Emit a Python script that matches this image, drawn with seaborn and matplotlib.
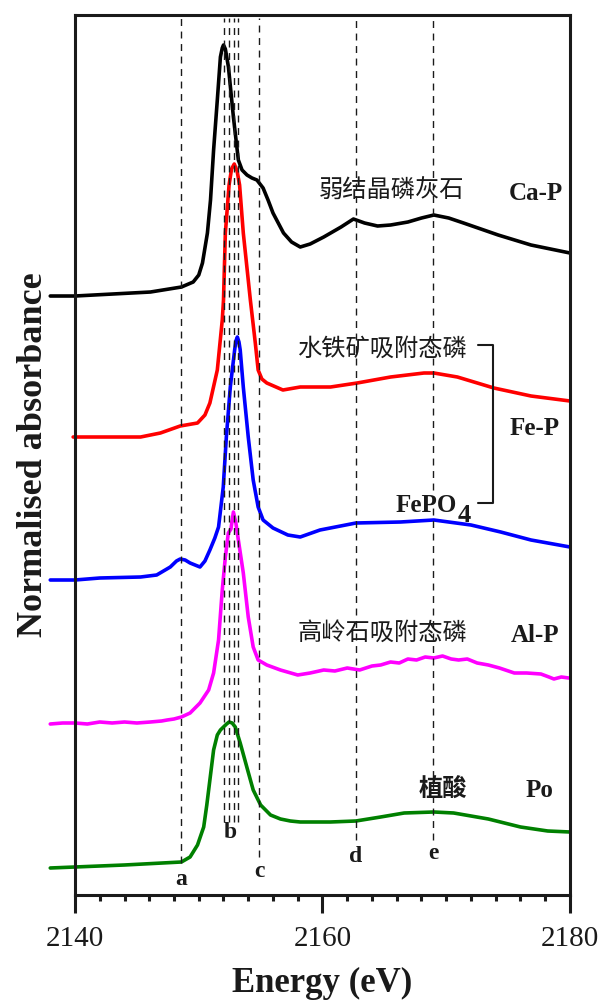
import matplotlib
matplotlib.use('Agg')
import matplotlib.pyplot as plt
import pandas as pd
import seaborn as sns
from matplotlib.ticker import MultipleLocator

# P K-edge XANES spectra (stacked, offset absorbance)
energy_cap = [2138.0, 2140.0, 2146.1, 2148.6, 2149.55, 2150.0, 2150.3, 2150.7, 2150.95, 2151.2,
              2151.5, 2151.75, 2151.9, 2152.0, 2152.15, 2152.4, 2152.8, 2153.2, 2153.5, 2153.9,
              2154.3, 2154.7, 2155.2, 2155.6, 2156.0, 2156.85, 2157.5, 2158.2, 2159.0, 2160.1,
              2161.5, 2162.5, 2163.4, 2164.45, 2165.5, 2166.9, 2168.0, 2169.0, 2170.2, 2171.4,
              2174.2, 2176.85, 2180.0]
absorb_cap = [5.99, 5.99, 6.03, 6.08, 6.13, 6.20, 6.32, 6.62, 6.95, 7.45,
              7.95, 8.38, 8.47, 8.50, 8.46, 8.28, 7.78, 7.35, 7.25, 7.20,
              7.17, 7.15, 7.07, 6.95, 6.82, 6.62, 6.53, 6.48, 6.51, 6.58,
              6.68, 6.76, 6.72, 6.69, 6.70, 6.73, 6.77, 6.80, 6.77, 6.72,
              6.60, 6.50, 6.42]

energy_fep = [2139.85, 2145.3, 2146.9, 2148.5, 2149.9, 2150.5, 2150.9, 2151.5, 2151.9, 2152.0,
              2152.15, 2152.45, 2152.65, 2152.87, 2153.1, 2153.3, 2153.6, 2154.17, 2154.57, 2154.8,
              2155.1, 2155.5, 2156.8, 2158.2, 2160.65, 2162.8, 2165.5, 2168.2, 2169.0, 2170.9,
              2173.85, 2176.85, 2180.0]
absorb_fep = [4.58, 4.58, 4.62, 4.69, 4.72, 4.80, 4.92, 5.25, 5.75, 5.95,
              6.62, 7.10, 7.26, 7.31, 7.24, 7.10, 6.62, 5.95, 5.52, 5.25,
              5.16, 5.12, 5.05, 5.08, 5.08, 5.12, 5.18, 5.22, 5.22, 5.18,
              5.07, 4.99, 4.94]

energy_fepo4 = [2138.0, 2140.0, 2142.0, 2145.3, 2146.6, 2147.7, 2148.2, 2148.5, 2148.9, 2149.3,
                2150.1, 2150.5, 2150.9, 2151.3, 2151.6, 2151.98, 2152.23, 2152.55, 2152.9, 2153.0,
                2153.12, 2153.25, 2153.35, 2153.6, 2154.0, 2154.4, 2154.8, 2155.2, 2156.0, 2157.2,
                2158.2, 2159.8, 2162.7, 2166.3, 2169.0, 2172.0, 2174.4, 2176.85, 2180.0]
absorb_fepo4 = [3.15, 3.15, 3.17, 3.18, 3.20, 3.28, 3.34, 3.36, 3.35, 3.32,
                3.28, 3.34, 3.45, 3.57, 3.68, 4.08, 4.58, 5.08, 5.45, 5.54,
                5.58, 5.53, 5.45, 5.08, 4.58, 4.15, 3.88, 3.75, 3.67, 3.60,
                3.58, 3.65, 3.72, 3.73, 3.75, 3.70, 3.63, 3.55, 3.48]

energy_alp = [2138.0, 2139.0, 2140.0, 2141.0, 2142.0, 2143.0, 2144.0, 2145.0, 2146.1, 2147.0,
              2147.45, 2148.0, 2148.6, 2149.3, 2150.1, 2150.8, 2151.2, 2151.6, 2151.9, 2152.15,
              2152.39, 2152.6, 2152.8, 2153.0, 2153.2, 2153.6, 2154.0, 2154.4, 2154.8, 2155.5,
              2156.6, 2158.0, 2159.0, 2160.1, 2161.0, 2162.0, 2163.0, 2164.0, 2164.7, 2165.5,
              2166.2, 2166.9, 2167.6, 2168.3, 2169.0, 2169.7, 2170.4, 2171.0, 2171.7, 2172.5,
              2173.4, 2174.3, 2175.5, 2176.5, 2177.65, 2178.3, 2178.7, 2179.3, 2179.9]
absorb_alp = [1.71, 1.72, 1.72, 1.71, 1.73, 1.72, 1.73, 1.72, 1.73, 1.74,
              1.75, 1.76, 1.78, 1.82, 1.92, 2.05, 2.22, 2.55, 3.05, 3.38,
              3.62, 3.66, 3.83, 3.72, 3.55, 3.22, 2.78, 2.48, 2.35, 2.30,
              2.25, 2.20, 2.22, 2.25, 2.24, 2.27, 2.25, 2.29, 2.30, 2.33,
              2.32, 2.36, 2.35, 2.38, 2.37, 2.39, 2.36, 2.35, 2.36, 2.32,
              2.30, 2.27, 2.22, 2.22, 2.21, 2.18, 2.16, 2.18, 2.17]

energy_po = [2138.0, 2140.0, 2144.0, 2148.6, 2149.3, 2149.9, 2150.4, 2150.65, 2150.9, 2151.2,
             2151.5, 2151.75, 2152.0, 2152.25, 2152.45, 2152.7, 2152.95, 2153.35, 2153.95, 2154.4,
             2155.0, 2155.8, 2156.6, 2157.4, 2158.2, 2160.65, 2162.7, 2164.7, 2166.6, 2169.0,
             2170.6, 2173.4, 2176.0, 2178.2, 2180.0]
absorb_po = [0.27, 0.28, 0.30, 0.33, 0.38, 0.50, 0.68, 0.90, 1.15, 1.45,
             1.60, 1.65, 1.68, 1.71, 1.73, 1.72, 1.68, 1.52, 1.25, 1.05,
             0.90, 0.80, 0.76, 0.74, 0.73, 0.73, 0.74, 0.78, 0.82, 0.83,
             0.82, 0.76, 0.68, 0.64, 0.63]

samples = ['Ca-P', 'Fe-P', 'FePO4', 'Al-P', 'Po']
colors = ['#000000', '#ff0000', '#0000ff', '#ff00ff', '#008000']

# reference feature lines a-e
feature_pos = [2148.58, 2152.01, 2152.47, 2152.82, 2153.14, 2154.87, 2162.71, 2168.96]
feature_bottom = [0.32, 0.73, 0.73, 0.73, 0.73, 0.38, 0.55, 0.55]
feature_names = ['a', 'b', 'c', 'd', 'e']
feature_label_x = [2148.58, 2152.55, 2154.87, 2162.71, 2168.96]
feature_label_y = [0.10, 0.57, 0.18, 0.33, 0.36]

sns.set_theme(style='ticks')
plt.rcParams['font.family'] = ['Liberation Serif', 'DejaVu Serif']
plt.rcParams['text.color'] = 'black'
plt.rcParams['axes.labelcolor'] = 'black'
cjk = ['Noto Sans CJK SC', 'DejaVu Sans']

frames = []
for name, e, a in zip(samples,
                      [energy_cap, energy_fep, energy_fepo4, energy_alp, energy_po],
                      [absorb_cap, absorb_fep, absorb_fepo4, absorb_alp, absorb_po]):
    frames.append(pd.DataFrame({'energy': e, 'absorbance': a, 'sample': name}))
df = pd.concat(frames, ignore_index=True)

fig = plt.figure(figsize=(6.01, 10.01), dpi=100)
ax = fig.add_axes([0.1248, 0.1059, 0.8236, 0.8791])

sns.lineplot(data=df, x='energy', y='absorbance', hue='sample', hue_order=samples,
             palette=colors, estimator=None, sort=False, legend=False,
             linewidth=2.6, ax=ax)
for line in ax.lines:
    line.set_clip_on(False)
    line.set_solid_capstyle('round')
    line.set_solid_joinstyle('round')

ax.set_xlim(2140, 2180)
ax.set_ylim(0, 8.8)

ax.vlines(feature_pos, feature_bottom, 8.77, colors='k', linestyles=(0, (5, 4)), linewidth=1)
for n, x, y in zip(feature_names, feature_label_x, feature_label_y):
    ax.text(x, y, n, ha='center', va='baseline', fontsize=17, fontweight='bold', color='k')

# sample labels
ax.text(2165.6, 7.04, '弱结晶磷灰石', family=cjk, fontsize=17.5, fontweight='medium',
        ha='center', va='center', color='k')
ax.text(2177.25, 6.95, 'Ca-P', fontsize=18, fontweight='bold', ha='center', va='baseline', color='k')
ax.text(2164.8, 5.46, '水铁矿吸附态磷', family=cjk, fontsize=17.5, fontweight='medium',
        ha='center', va='center', color='k')
ax.plot([2172.55, 2173.77, 2173.77, 2172.55], [5.50, 5.50, 3.92, 3.92], color='k', lw=1.5)
ax.text(2177.1, 4.60, 'Fe-P', fontsize=18, fontweight='bold', ha='center', va='baseline', color='k')
ax.text(2165.9, 3.83, 'FePO', fontsize=18, fontweight='bold', ha='left', va='baseline', color='k')
ax.text(2170.9, 3.73, '4', fontsize=19, fontweight='bold', ha='left', va='baseline', color='k')
ax.text(2164.86, 2.62, '高岭石吸附态磷', family=cjk, fontsize=17.5, fontweight='medium',
        ha='center', va='center', color='k')
ax.text(2177.2, 2.53, 'Al-P', fontsize=18, fontweight='bold', ha='center', va='baseline', color='k')
ax.text(2169.75, 1.05, '植酸', family=cjk, fontsize=17.5, fontweight='bold', ha='center',
        va='center', color='k')
ax.text(2177.5, 0.98, 'Po', fontsize=18, fontweight='bold', ha='center', va='baseline', color='k')

for s in ax.spines.values():
    s.set_visible(True)
    s.set_linewidth(2.2)
    s.set_color('k')

ax.xaxis.set_major_locator(MultipleLocator(20))
ax.xaxis.set_minor_locator(MultipleLocator(2))
ax.tick_params(axis='x', which='major', direction='out', length=13, width=2.2,
               labelsize=21, pad=9, colors='k')
ax.tick_params(axis='x', which='minor', direction='out', length=4.5, width=2.2, colors='k')
ax.set_yticks([])

ax.set_xlabel('Energy (eV)', fontsize=25, fontweight='bold', labelpad=11, color='k')
ax.set_ylabel('Normalised absorbance', fontsize=26, fontweight='bold', labelpad=18, color='k')

fig.savefig('out.png', dpi=100)
